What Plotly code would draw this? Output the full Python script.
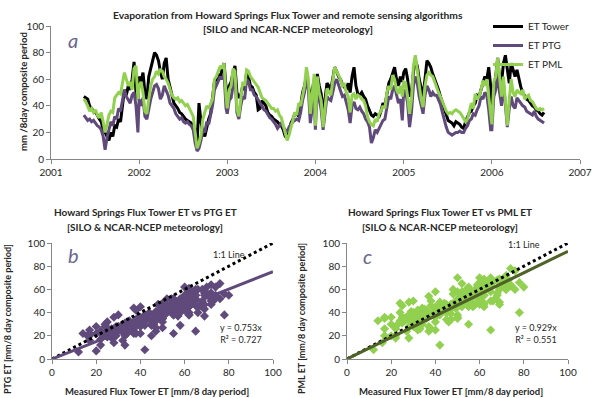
import pandas as pd
import plotly.graph_objects as go

FONT = "Lato"

# 8-day composite periods per year: first period index and count
years = [2001, 2002, 2003, 2004, 2005, 2006]
first_period = [17, 0, 0, 0, 0, 0]
n_periods = [29, 46, 46, 46, 46, 28]

tower_2001 = [47, 46, 45, 40, 38, 36, 35, 33, 30, 28, 22, 20, 17, 14, 20, 17, 25, 24, 30, 28, 40, 52, 48, 55, 52, 60, 73, 50, 45]
tower_2002 = [62, 58, 65, 50, 45, 62, 68, 72, 80, 78, 74, 66, 60, 72, 76, 60, 55, 48, 42, 40, 38, 35, 34, 32, 30, 29, 28, 27, 25, 22,
              12, 42, 28, 20, 17, 24, 30, 34, 48, 58, 60, 64, 60, 68, 72, 55]
tower_2003 = [42, 55, 58, 65, 70, 50, 46, 48, 55, 52, 65, 62, 55, 54, 50, 48, 37, 38, 44, 42, 40, 35, 33, 32, 30, 29, 28, 26, 25, 22,
              17, 16, 22, 27, 30, 34, 34, 32, 40, 50, 55, 62, 55, 47, 52, 59]
tower_2004 = [40, 64, 55, 49, 37, 45, 57, 55, 52, 62, 69, 66, 62, 60, 56, 54, 52, 57, 50, 62, 69, 55, 49, 48, 50, 47, 45, 40, 37, 33,
              32, 34, 33, 32, 36, 42, 40, 50, 57, 60, 64, 69, 60, 55, 62, 58]
tower_2005 = [65, 68, 60, 47, 50, 65, 74, 70, 60, 52, 47, 60, 74, 72, 69, 64, 60, 57, 52, 47, 42, 37, 33, 29, 28, 27, 25, 28, 27, 26,
              24, 23, 28, 31, 35, 36, 40, 42, 48, 47, 52, 58, 62, 60, 69, 55]
tower_2006 = [38, 55, 62, 76, 60, 57, 72, 78, 65, 57, 72, 66, 62, 67, 60, 54, 50, 47, 45, 44, 42, 40, 39, 37, 36, 34, 33, 35]

ptg_2001 = [33, 31, 29, 30, 28, 29, 27, 25, 24, 22, 17, 7, 16, 22, 28, 25, 32, 30, 38, 36, 45, 52, 47, 44, 42, 48, 50, 40, 20]
ptg_2002 = [45, 40, 46, 32, 30, 38, 45, 50, 55, 56, 53, 45, 48, 55, 52, 48, 42, 40, 38, 34, 32, 30, 31, 28, 27, 28, 26, 25, 22, 12,
            6, 8, 14, 22, 20, 28, 26, 32, 40, 52, 55, 58, 62, 60, 64, 38]
ptg_2003 = [34, 44, 46, 55, 62, 35, 30, 40, 47, 45, 60, 58, 52, 52, 48, 47, 44, 42, 40, 37, 36, 33, 31, 30, 28, 26, 23, 25, 27, 24,
            22, 20, 24, 26, 28, 29, 30, 29, 35, 44, 50, 61, 52, 27, 40, 49]
ptg_2004 = [22, 53, 45, 37, 22, 35, 47, 45, 44, 50, 57, 60, 55, 52, 47, 48, 42, 37, 27, 40, 43, 38, 37, 39, 36, 34, 30, 28, 24, 12,
            16, 22, 20, 23, 26, 29, 30, 40, 47, 45, 52, 55, 48, 42, 45, 29]
ptg_2005 = [52, 50, 42, 24, 35, 55, 62, 57, 47, 40, 34, 48, 55, 52, 47, 50, 48, 48, 44, 41, 35, 29, 24, 20, 19, 18, 19, 20, 20, 21,
            20, 20, 23, 25, 29, 30, 34, 33, 37, 40, 47, 45, 50, 48, 37, 22]
ptg_2006 = [22, 47, 52, 65, 50, 40, 57, 38, 24, 38, 47, 40, 38, 46, 44, 42, 40, 39, 36, 35, 34, 33, 36, 32, 30, 29, 28, 27]

pml_2001 = [45, 43, 40, 36, 38, 35, 37, 33, 31, 35, 28, 20, 26, 33, 36, 35, 46, 48, 50, 49, 58, 65, 60, 55, 58, 52, 68, 70, 45]
pml_2002 = [55, 58, 50, 36, 34, 45, 55, 60, 62, 66, 64, 67, 66, 62, 60, 57, 52, 48, 46, 45, 46, 43, 44, 42, 40, 41, 38, 36, 32, 20,
            8, 12, 18, 30, 36, 40, 38, 42, 45, 60, 62, 66, 70, 68, 72, 47]
pml_2003 = [38, 52, 55, 68, 66, 38, 32, 45, 58, 55, 67, 66, 62, 60, 58, 56, 54, 50, 46, 45, 44, 42, 40, 38, 38, 36, 37, 33, 31, 26,
            20, 14, 18, 24, 28, 35, 33, 42, 40, 47, 55, 69, 60, 34, 50, 64]
pml_2004 = [25, 62, 50, 44, 24, 40, 53, 50, 48, 59, 69, 66, 63, 60, 55, 56, 50, 47, 35, 48, 49, 45, 48, 47, 45, 44, 40, 32, 28, 26,
            25, 30, 28, 34, 36, 40, 38, 50, 55, 52, 63, 60, 52, 49, 55, 47]
pml_2005 = [58, 57, 47, 34, 45, 70, 78, 68, 57, 45, 39, 55, 63, 65, 63, 62, 58, 53, 50, 47, 43, 39, 36, 34, 35, 34, 36, 37, 36, 35,
            33, 30, 28, 30, 36, 42, 38, 49, 45, 47, 52, 59, 55, 60, 47, 30]
pml_2006 = [26, 58, 62, 76, 58, 47, 62, 40, 25, 45, 60, 50, 47, 52, 50, 49, 52, 45, 47, 48, 44, 43, 40, 38, 37, 38, 37, 38]

# regression slopes (through origin) and fit statistics shown on panels b and c
slope_ptg, r2_ptg = 0.753, 0.727
slope_pml, r2_pml = 0.929, 0.551
line_x = [0, 100]

tower = tower_2001 + tower_2002 + tower_2003 + tower_2004 + tower_2005 + tower_2006
ptg = ptg_2001 + ptg_2002 + ptg_2003 + ptg_2004 + ptg_2005 + ptg_2006
pml = pml_2001 + pml_2002 + pml_2003 + pml_2004 + pml_2005 + pml_2006

dates = []
for y, f, n in zip(years, first_period, n_periods):
    for i in range(f, f + n):
        dates.append(pd.Timestamp(f"{y}-01-01") + pd.Timedelta(days=8 * i))

BLACK = "#000000"
PURPLE = "#604A7B"
GREEN = "#92D050"
OLIVE = "#4F6228"
AXC = "#868686"
TXT = "#262626"

fig = go.Figure()

fig.add_trace(go.Scatter(x=dates, y=tower, mode="lines", name="ET Tower",
                         line=dict(color=BLACK, width=3), xaxis="x", yaxis="y"))
fig.add_trace(go.Scatter(x=dates, y=ptg, mode="lines", name="ET PTG",
                         line=dict(color=PURPLE, width=3), xaxis="x", yaxis="y"))
fig.add_trace(go.Scatter(x=dates, y=pml, mode="lines", name="ET PML",
                         line=dict(color=GREEN, width=3), xaxis="x", yaxis="y"))

# panel b
fig.add_trace(go.Scatter(x=tower, y=ptg, mode="markers", showlegend=False,
                         marker=dict(symbol="diamond", size=7, color=PURPLE), xaxis="x2", yaxis="y2"))
fig.add_trace(go.Scatter(x=line_x, y=line_x, mode="lines", showlegend=False,
                         line=dict(color=BLACK, width=3, dash="dot"), xaxis="x2", yaxis="y2"))
fig.add_trace(go.Scatter(x=line_x, y=[slope_ptg * v for v in line_x], mode="lines", showlegend=False,
                         line=dict(color=PURPLE, width=3), xaxis="x2", yaxis="y2"))

# panel c
fig.add_trace(go.Scatter(x=tower, y=pml, mode="markers", showlegend=False,
                         marker=dict(symbol="diamond", size=7, color=GREEN), xaxis="x3", yaxis="y3"))
fig.add_trace(go.Scatter(x=line_x, y=line_x, mode="lines", showlegend=False,
                         line=dict(color=BLACK, width=3, dash="dot"), xaxis="x3", yaxis="y3"))
fig.add_trace(go.Scatter(x=line_x, y=[slope_pml * v for v in line_x], mode="lines", showlegend=False,
                         line=dict(color=OLIVE, width=3), xaxis="x3", yaxis="y3"))

W, H = 592, 398


def px(x):
    return x / W


def py(y):
    return 1 - y / H


ax = dict(showline=True, linecolor=AXC, linewidth=1, ticks="outside", ticklen=4, tickcolor=AXC,
          showgrid=False, zeroline=False, automargin=False,
          tickfont=dict(family=FONT, size=10, color=TXT))

fig.update_layout(
    width=W, height=H, margin=dict(l=0, r=0, t=0, b=0, autoexpand=False),
    paper_bgcolor="white", plot_bgcolor="white",
    font=dict(family=FONT, color=TXT),
    xaxis=dict(ax, type="date", domain=[px(51), px(580)], range=["2001-01-01", "2007-01-01"],
               dtick="M12", tick0="2001-01-01", tickformat="%Y", anchor="y"),
    yaxis=dict(ax, domain=[py(159), py(26)], range=[0, 100], dtick=20, anchor="x"),
    xaxis2=dict(ax, domain=[px(52), px(273)], range=[0, 100], dtick=20, anchor="y2"),
    yaxis2=dict(ax, domain=[py(359), py(243)], range=[0, 100], dtick=20, anchor="x2"),
    xaxis3=dict(ax, domain=[px(347), px(568)], range=[0, 100], dtick=20, anchor="y3"),
    yaxis3=dict(ax, domain=[py(359), py(243)], range=[0, 100], dtick=20, anchor="x3"),
    legend=dict(x=px(488), y=py(12), xanchor="left", yanchor="top", bgcolor="rgba(0,0,0,0)",
                font=dict(family=FONT, size=10, color=TXT), tracegroupgap=0),
    showlegend=True,
)

ann = []


def text(x, y, s, size=10, bold=False, angle=0, xanchor="center", color=TXT, italic=False, xref="paper", yref="paper"):
    t = s
    if bold:
        t = f"<b>{t}</b>"
    if italic:
        t = f"<i>{t}</i>"
    ann.append(dict(x=x, y=y, xref=xref, yref=yref, text=t, showarrow=False, textangle=angle,
                    xanchor=xanchor, yanchor="middle", font=dict(family=FONT, size=size, color=color)))


# top panel
text(px(288), py(15), "Evaporation from Howard Springs Flux Tower and remote sensing algorithms", 10.3, True)
text(px(288), py(29), "[SILO and NCAR-NCEP meteorology]", 10.3, True)
text(px(23), py(92), "mm /8day composite period", 9.5, True, -90)
text(px(66), py(40), "a", 20, italic=True, xanchor="left", color="#6B6590")

# panel b
text(px(145), py(212), "Howard Springs Flux Tower ET vs PTG ET", 10, True)
text(px(145), py(227), "[SILO &amp; NCAR-NCEP meteorology]", 10, True)
text(px(157), py(391), "Measured Flux Tower ET [mm/8 day period]", 9.5, True)
text(px(7), py(319), "PTG ET [mm/8 day composite period]", 9, True, -90)
text(px(66), py(255), "b", 20, italic=True, xanchor="left", color="#6B6590")
text(80, 90, "1:1 Line", 9, xref="x2", yref="y2")
text(96, 22, f"y = {slope_ptg}x<br>R² = {r2_ptg}", 9, xanchor="right", xref="x2", yref="y2")

# panel c
text(px(440), py(212), "Howard Springs Flux Tower ET vs PML ET", 10, True)
text(px(440), py(227), "[SILO &amp; NCAR-NCEP meteorology]", 10, True)
text(px(451), py(391), "Measured Flux Tower ET [mm/8 day period]", 9.5, True)
text(px(301), py(319), "PML ET [mm/8 day composite period]", 9, True, -90)
text(px(361), py(256), "c", 20, italic=True, xanchor="left", color="#6B6590")
text(80, 99, "1:1 Line", 9, xref="x3", yref="y3")
text(96, 22, f"y = {slope_pml}x<br>R² = {r2_pml}", 9, xanchor="right", xref="x3", yref="y3")

fig.update_layout(annotations=ann)

fig.write_html("out.html", config={"displayModeBar": False},
               post_script="document.body.style.margin='0px';document.body.style.overflow='hidden';")
